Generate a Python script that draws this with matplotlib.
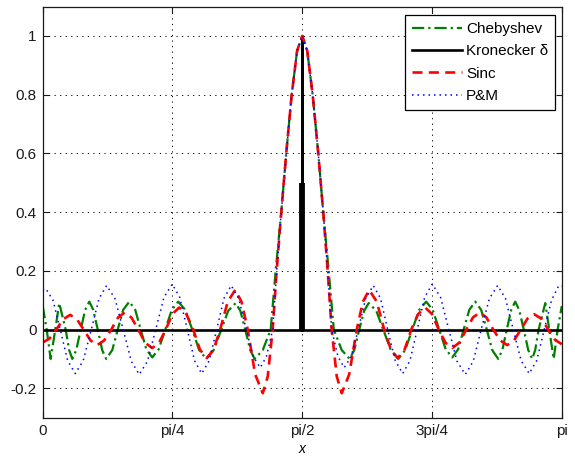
import numpy as np
import matplotlib
matplotlib.use("Agg")
import matplotlib.pyplot as plt

plt.rcParams['font.family'] = ['Liberation Sans', 'DejaVu Sans']

# ---------------- data ----------------
# Chebyshev (green dash-dot)
cheb_x = [0.000, 0.024, 0.048, 0.076, 0.100, 0.139, 0.160, 0.179, 0.203, 0.230,
          0.257, 0.282, 0.306, 0.333, 0.360, 0.384, 0.421, 0.454, 0.487, 0.524,
          0.560, 0.593, 0.627, 0.663, 0.702, 0.742, 0.781, 0.820, 0.863, 0.905,
          0.947, 0.990, 1.035, 1.081, 1.123, 1.168, 1.196, 1.226, 1.256, 1.283,
          1.332, 1.380, 1.410, 1.444, 1.474, 1.507, 1.540, 1.571,
          1.601, 1.634, 1.668, 1.698, 1.731, 1.762, 1.810, 1.858, 1.886, 1.916,
          1.946, 1.973, 2.019, 2.061, 2.107, 2.152, 2.194, 2.237, 2.279, 2.321,
          2.361, 2.400, 2.439, 2.479, 2.515, 2.548, 2.582, 2.618, 2.654, 2.688,
          2.721, 2.757, 2.782, 2.809, 2.836, 2.860, 2.884, 2.912, 2.939, 2.963,
          2.981, 3.002, 3.042, 3.066, 3.093, 3.117, 3.142]
cheb_y = [0.080, 0.000, -0.100, 0.000, 0.090, 0.000, -0.070, -0.100, -0.070, 0.000,
          0.067, 0.095, 0.067, 0.000, -0.070, -0.100, -0.070, 0.000, 0.067, 0.095,
          0.067, 0.000, -0.067, -0.095, -0.067, 0.000, 0.067, 0.095, 0.067, 0.000,
          -0.070, -0.100, -0.070, 0.000, 0.064, 0.090, 0.064, 0.000, -0.070, -0.100,
          -0.070, 0.000, 0.200, 0.400, 0.600, 0.800, 0.950, 1.000,
          0.950, 0.800, 0.600, 0.400, 0.200, 0.000, -0.070, -0.100, -0.070, 0.000,
          0.064, 0.090, 0.064, 0.000, -0.070, -0.100, -0.070, 0.000, 0.067, 0.095,
          0.067, 0.000, -0.067, -0.095, -0.067, 0.000, 0.067, 0.095, 0.067, 0.000,
          -0.070, -0.100, -0.070, 0.000, 0.067, 0.095, 0.067, 0.000, -0.070, -0.100,
          -0.070, 0.000, 0.090, 0.000, -0.100, 0.000, 0.080]

# Kronecker delta (black solid)
kron_x = [0.0, np.pi / 2, np.pi / 2, np.pi / 2, np.pi]
kron_y = [0.0, 0.0, 1.0, 0.0, 0.0]
kron_thick_top = 0.5   # lower half of the spike is drawn thicker in the reference

# Sinc (red dashed)
sinc_x = [0.000, 0.041, 0.082, 0.124, 0.166, 0.207, 0.248, 0.289, 0.330, 0.372,
          0.415, 0.456, 0.496, 0.537, 0.578, 0.620, 0.663, 0.704, 0.745, 0.785,
          0.826, 0.869, 0.911, 0.952, 0.993, 1.034, 1.074, 1.120, 1.165, 1.203,
          1.241, 1.286, 1.332, 1.362, 1.392, 1.416, 1.444, 1.474, 1.507, 1.540,
          1.571,
          1.601, 1.634, 1.668, 1.698, 1.725, 1.749, 1.780, 1.810, 1.855, 1.901,
          1.938, 1.976, 2.022, 2.067, 2.108, 2.149, 2.190, 2.231, 2.273, 2.315,
          2.356, 2.397, 2.438, 2.479, 2.521, 2.564, 2.604, 2.645, 2.686, 2.727,
          2.769, 2.812, 2.853, 2.894, 2.934, 2.975, 3.018, 3.060, 3.101, 3.142]
sinc_y = [-0.044, -0.031, 0.000, 0.035, 0.050, 0.035, 0.000, -0.037, -0.053, -0.037,
          0.000, 0.041, 0.058, 0.041, 0.000, -0.045, -0.063, -0.045, 0.000, 0.053,
          0.075, 0.053, 0.000, -0.069, -0.097, -0.069, 0.000, 0.095, 0.135, 0.095,
          0.000, -0.153, -0.217, -0.160, 0.000, 0.200, 0.400, 0.600, 0.800, 0.950,
          1.000,
          0.950, 0.800, 0.600, 0.400, 0.200, 0.000, -0.160, -0.217, -0.153, 0.000,
          0.095, 0.135, 0.095, 0.000, -0.069, -0.097, -0.069, 0.000, 0.053, 0.075,
          0.053, 0.000, -0.045, -0.063, -0.045, 0.000, 0.041, 0.058, 0.041, 0.000,
          -0.037, -0.053, -0.037, 0.000, 0.037, 0.052, 0.037, 0.000, -0.035, -0.050]

# P&M (blue dotted)
pm_x = [0.000, 0.018, 0.062, 0.106, 0.151, 0.197, 0.245, 0.294, 0.341, 0.387,
        0.437, 0.487, 0.536, 0.584, 0.634, 0.684, 0.734, 0.784, 0.829, 0.875,
        0.919, 0.962, 1.008, 1.053, 1.097, 1.141, 1.186, 1.232, 1.274, 1.317,
        1.354, 1.392, 1.416, 1.444, 1.474, 1.507, 1.540, 1.571,
        1.601, 1.634, 1.668, 1.698, 1.725, 1.749, 1.787, 1.825, 1.867, 1.910,
        1.955, 2.001, 2.045, 2.088, 2.134, 2.179, 2.223, 2.267, 2.312, 2.358,
        2.408, 2.458, 2.508, 2.558, 2.606, 2.654, 2.704, 2.754, 2.801, 2.848,
        2.896, 2.945, 2.990, 3.036, 3.080, 3.124, 3.142]
pm_y = [0.135, 0.140, 0.100, 0.000, -0.106, -0.150, -0.106, 0.000, 0.106, 0.150,
        0.106, 0.000, -0.108, -0.153, -0.108, 0.000, 0.110, 0.155, 0.110, 0.000,
        -0.106, -0.150, -0.106, 0.000, 0.106, 0.150, 0.106, 0.000, -0.092, -0.130,
        -0.092, 0.000, 0.200, 0.400, 0.600, 0.800, 0.950, 1.000,
        0.950, 0.800, 0.600, 0.400, 0.200, 0.000, -0.092, -0.130, -0.092, 0.000,
        0.106, 0.150, 0.106, 0.000, -0.106, -0.150, -0.106, 0.000, 0.110, 0.155,
        0.110, 0.000, -0.108, -0.153, -0.108, 0.000, 0.106, 0.150, 0.106, 0.000,
        -0.106, -0.150, -0.106, 0.000, 0.100, 0.150, 0.148]

xtick_vals = [0, np.pi / 4, np.pi / 2, 3 * np.pi / 4, np.pi]
xtick_labels = ['0', 'pi/4', 'pi/2', '3pi/4', 'pi']
ytick_vals = [-0.2, 0, 0.2, 0.4, 0.6, 0.8, 1.0]
ytick_labels = ['-0.2', '0', '0.2', '0.4', '0.6', '0.8', '1']
series_labels = ['Chebyshev', 'Kronecker \u03b4', 'Sinc', 'P&M']

# ---------------- figure ----------------
fig = plt.figure(figsize=(5.75, 4.57), dpi=100)
ax = fig.add_axes([0.0743, 0.0862, 0.9026, 0.8993])

ax.plot(cheb_x, cheb_y, color='#008000', lw=1.6,
        dashes=(5.5, 1.8, 1.0, 1.8), label=series_labels[0])
ax.plot(kron_x, kron_y, color='black', lw=1.9, label=series_labels[1])
ax.vlines(kron_x[2], 0, kron_thick_top, color='black', lw=4.2)
ax.plot(sinc_x, sinc_y, color='#ff0000', lw=1.9,
        dashes=(3.8, 2.4), label=series_labels[2])
ax.plot(pm_x, pm_y, color='#0000ff', lw=1.1,
        dashes=(1.0, 2.6), label=series_labels[3])

ax.set_xlim(0, np.pi)
ax.set_ylim(-0.3, 1.1)
ax.set_xticks(xtick_vals)
ax.set_xticklabels(xtick_labels)
ax.set_yticks(ytick_vals)
ax.set_yticklabels(ytick_labels)

ax.grid(True, color='black', lw=0.7, linestyle=(0, (1.2, 4.5)))
ax.tick_params(direction='in', length=4, width=0.8, top=True, right=True,
               labelsize=11, colors='#1a1a1a', pad=4.5)
for sp in ax.spines.values():
    sp.set_color('#1a1a1a')
    sp.set_linewidth(0.9)

ax.set_xlabel('x', fontsize=10, style='italic', labelpad=3)

leg = ax.legend(loc='upper right', bbox_to_anchor=(0.9871, 0.9796),
                borderaxespad=0, fancybox=False, framealpha=1,
                edgecolor='black', fontsize=11, handlelength=3.3,
                handletextpad=0.25, labelspacing=0.55, borderpad=0.45)
leg.get_frame().set_linewidth(0.9)

fig.savefig('out.png', dpi=100)
